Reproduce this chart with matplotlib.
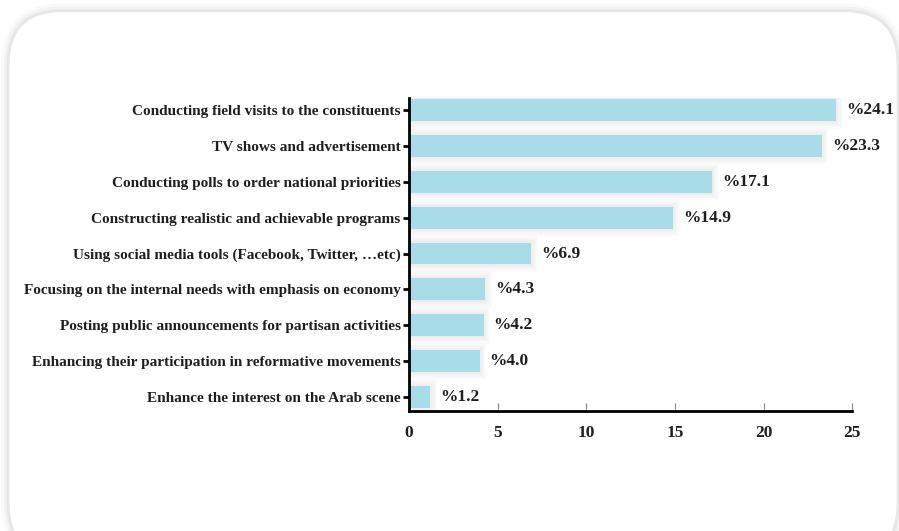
import matplotlib
matplotlib.use("Agg")
import matplotlib.pyplot as plt
from matplotlib.patches import FancyBboxPatch
import numpy as np

categories = [
    "Conducting field visits to the constituents",
    "TV shows and advertisement",
    "Conducting polls to order national priorities",
    "Constructing realistic and achievable programs",
    "Using social media tools (Facebook, Twitter, \u2026etc)",
    "Focusing on the internal needs with emphasis on economy",
    "Posting public announcements for partisan activities",
    "Enhancing their participation in reformative movements",
    "Enhance the interest on the Arab scene",
]
values = [24.1, 23.3, 17.1, 14.9, 6.9, 4.3, 4.2, 4.0, 1.2]
xticks = [0, 5, 10, 15, 20, 25]

bar_color = "#a8dce8"
text_color = "#1e1e1e"
serif = ["Liberation Serif", "DejaVu Serif"]

fig = plt.figure(figsize=(8.99, 5.31), dpi=100)
fig.patch.set_facecolor("white")

# rounded card frame with a faint halo
for i, (lw, c) in enumerate([(10, "#fafafa"), (6, "#f3f3f3"), (2.2, "#e7e7e7")]):
    card = FancyBboxPatch((0.009, -0.05), 0.99, 1.03,
                          boxstyle="round,pad=0,rounding_size=0.06",
                          transform=fig.transFigure, facecolor="none" if i < 2 else "white",
                          edgecolor=c, linewidth=lw, zorder=-5,
                          mutation_aspect=899 / 531)
    fig.patches.append(card)

ax = fig.add_axes([0.455, 0.226, 0.493, 0.589])
ax.set_zorder(2)
ax.set_facecolor("none")

y = np.arange(len(values))[::-1]
h = 0.61

# soft grey glow behind each bar
for k in range(1, 7):
    ax.barh(y, np.array(values) + 0.12 * k, height=h + 0.07 * k, left=-0.06 * k,
            color="#9a9a9a", alpha=0.022, linewidth=0, zorder=1)
ax.barh(y, values, height=h, color=bar_color, linewidth=0, zorder=3)

for yi, v in zip(y, values):
    ax.text(v + 0.55, yi, f"%{v:.1f}", va="center", ha="left",
            fontsize=12.5, fontweight="bold", family=serif, color=text_color, zorder=4)

ax.set_xlim(0, 25)
ax.set_ylim(-0.39, 8.33)
ax.set_xticks(xticks)
ax.set_xticklabels([str(t) for t in xticks], fontsize=12.5, fontweight="bold",
                   family=serif, color=text_color)
ax.set_yticks(y)
ax.set_yticklabels(categories, fontsize=11, fontweight="bold",
                   family=serif, color=text_color)

ax.tick_params(axis="x", direction="in", length=6, width=0.8, color="#888888", pad=10)
ax.tick_params(axis="y", direction="out", length=4, width=2, color="black", pad=2)

for s in ["top", "right"]:
    ax.spines[s].set_visible(False)
for s in ["left", "bottom"]:
    ax.spines[s].set_linewidth(2)
    ax.spines[s].set_color("black")
    ax.spines[s].set_zorder(5)

fig.savefig("out.png", dpi=100)
